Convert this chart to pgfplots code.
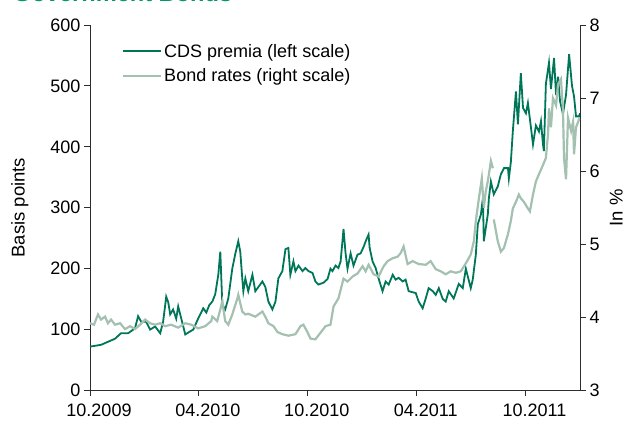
\documentclass[border=0pt]{standalone}
\usepackage{fontspec}
\setmainfont{Liberation Sans}
\usepackage{pgfplots}
\pgfplotsset{compat=1.18}
\definecolor{cdsgreen}{RGB}{0,118,88}
\definecolor{bondgreen}{RGB}{163,192,176}
\definecolor{titlegreen}{RGB}{0,150,110}
\definecolor{axisgray}{RGB}{45,45,45}

\pgfplotsset{
  base/.style={
    scale only axis, width=490pt, height=365.5pt,
    xmin=0, xmax=27,
    tick align=outside, major tick length=6pt,
    tick style={axisgray, line width=0.9pt},
    axis line style={axisgray, line width=0.9pt, -},
    ticklabel style={font=\fontsize{18}{21}\selectfont},
    /pgf/number format/assume math mode=true,
  }
}

\begin{document}
\begin{tikzpicture}[x=1pt,y=1pt]
\path[use as bounding box] (-90,-31.5) rectangle (537,390.5);
\node[anchor=base west, font=\fontsize{23.6}{26}\selectfont\bfseries, text=titlegreen, inner sep=0pt] at (-77,388.5) {Government Bonds};

% CDS premia, basis points (left scale)
\begin{axis}[base,
  ymin=0, ymax=600,
  axis x line*=bottom, axis y line*=left,
  xtick={0,6,12,18,24},
  xticklabels={10.2009,04.2010,10.2010,04.2011,10.2011},
  xticklabel style={xshift=9pt, yshift=-6pt, inner ysep=1pt},
  ytick={0,100,...,600},
  ylabel={Basis points},
  every axis y label/.style={at={(axis description cs:-0.143,0.5)}, rotate=90, anchor=center,
    font=\fontsize{18.5}{21}\selectfont},
  legend style={draw=none, fill=none, at={(axis description cs:0.065,0.954)}, anchor=north west,
    font=\fontsize{18}{21}\selectfont, row sep=6pt, inner sep=0pt, cells={anchor=west}},
  legend image code/.code={\draw[#1] (0pt,0pt) -- (38pt,0pt);},
]
\addplot[cdsgreen, line width=1.8pt] coordinates {
(0,72) (0.61,75) (1.38,85) (1.71,94) (2.10,94) (2.48,102) (2.65,122) (2.82,113) (3.09,113) (3.31,100)
(3.59,105) (3.87,94) (4.03,113) (4.20,154) (4.31,145) (4.42,125) (4.58,133) (4.75,118) (4.86,138) (5.03,118)
(5.25,92) (5.41,95) (5.69,100) (5.96,118) (6.24,135) (6.41,128) (6.57,140) (6.74,146) (6.90,158) (7.07,190)
(7.18,228) (7.29,141) (7.45,133) (7.62,151) (7.84,200) (8.01,225) (8.17,245) (8.28,228) (8.39,184) (8.45,163)
(8.56,184) (8.72,163) (8.95,190) (9.11,163) (9.28,170) (9.50,179) (9.66,170) (9.83,146) (10.05,133) (10.22,146)
(10.38,184) (10.60,196) (10.77,232) (10.93,234) (11.04,190) (11.21,212) (11.32,196) (11.49,205) (11.71,196) (11.87,201)
(12.04,196) (12.26,193) (12.42,179) (12.59,174) (12.87,177) (13.09,183) (13.25,200) (13.36,196) (13.53,205) (13.69,201)
(13.81,212) (13.97,265) (14.08,226) (14.19,200) (14.36,225) (14.52,205) (14.74,223) (14.91,225) (15.08,236) (15.19,245)
(15.35,256) (15.41,234) (15.57,212) (15.74,201) (15.90,184) (16.12,163) (16.29,179) (16.46,174) (16.68,190) (16.84,182)
(17.01,185) (17.23,179) (17.39,182) (17.56,163) (17.95,160) (18.11,146) (18.33,135) (18.50,151) (18.66,168) (18.89,163)
(19.05,157) (19.22,168) (19.44,150) (19.60,146) (19.77,163) (20.04,151) (20.32,175) (20.54,168) (20.71,200) (20.98,168)
(21.09,182) (21.26,223) (21.37,273) (21.54,289) (21.65,316) (21.70,245) (21.92,289) (21.98,316) (22.09,343) (22.25,322)
(22.47,335) (22.64,355) (22.81,365) (23.03,365) (23.08,348) (23.19,375) (23.30,426) (23.47,491) (23.58,437) (23.74,521)
(23.86,464) (24.02,455) (24.13,472) (24.30,431) (24.41,404) (24.57,435) (24.74,425) (24.85,442) (24.96,404) (25.01,393)
(25.12,503) (25.29,538) (25.40,495) (25.57,546) (25.68,485) (25.79,515) (25.90,475) (26.06,454) (26.23,485) (26.40,552)
(26.56,500) (26.67,483) (26.78,450) (26.95,450) (27,455)
};
\addlegendentry{CDS premia (left scale)}
\addlegendimage{bondgreen, line width=2.2pt}
\addlegendentry{Bond rates (right scale)}
\end{axis}

% Bond rates, per cent (right scale)
\begin{axis}[base,
  ymin=3, ymax=8,
  axis x line=none, axis y line*=right,
  ytick={3,4,...,8},
  ylabel={In \%},
  every axis y label/.style={at={(axis description cs:1.074,0.5)}, rotate=90, anchor=center,
    font=\fontsize{18.5}{21}\selectfont},
  unbounded coords=jump,
]
\addplot[bondgreen, line width=2.2pt] coordinates {
(0,3.92) (0.22,3.90) (0.44,4.04) (0.61,3.97) (0.83,4.01) (0.99,3.92) (1.16,3.97) (1.38,3.90) (1.66,3.92) (1.93,3.84)
(2.21,3.88) (2.48,3.84) (2.76,3.90) (3.04,3.97) (3.31,3.92) (3.59,3.90) (3.87,3.92) (4.14,3.88) (4.47,3.90) (4.86,3.86)
(5.25,3.92) (5.58,3.90) (5.96,3.85) (6.35,3.88) (6.68,3.95) (6.74,4.01) (7.01,3.95) (7.18,4.11) (7.29,4.22) (7.45,3.95)
(7.62,3.90) (7.84,4.04) (8.12,4.26) (8.17,4.31) (8.39,4.08) (8.56,4.04) (8.72,4.05) (9.11,4.01) (9.50,4.08) (9.66,4.01)
(9.83,3.92) (10.11,3.88) (10.33,3.80) (10.60,3.77) (10.93,3.75) (11.32,3.77) (11.60,3.88) (11.76,3.90) (11.98,3.80) (12.15,3.71)
(12.42,3.70) (12.70,3.79) (12.98,3.88) (13.25,3.90) (13.42,4.15) (13.69,4.26) (13.97,4.53) (14.19,4.49) (14.47,4.56) (14.74,4.60)
(15.02,4.70) (15.19,4.63) (15.35,4.72) (15.63,4.59) (15.90,4.56) (16.18,4.70) (16.40,4.77) (16.68,4.81) (16.95,4.83) (17.12,4.88)
(17.28,4.97) (17.50,4.73) (17.78,4.77) (18.11,4.73) (18.50,4.72) (18.77,4.77) (19.05,4.66) (19.33,4.63) (19.60,4.59) (19.88,4.63)
(20.16,4.61) (20.43,4.63) (20.71,4.74) (20.98,4.86) (21.15,5.04) (21.26,5.32) (21.43,5.63) (21.59,5.90) (21.70,5.50) (21.81,5.73)
(21.92,5.86) (22.09,6.14) (22.20,6.04) (22.22,nan) (22.25,5.34) (22.47,5.04) (22.64,4.90) (22.81,4.95) (23.03,5.14) (23.19,5.32)
(23.30,5.49) (23.47,5.58) (23.63,5.68) (23.74,5.63) (23.91,5.58) (24.13,5.49) (24.24,5.45) (24.41,5.68) (24.57,5.86) (24.74,5.96)
(24.90,6.05) (25.12,6.18) (25.24,6.51) (25.29,6.86) (25.40,6.60) (25.51,7.00) (25.68,6.90) (25.79,7.19) (25.95,7.26) (26.06,6.85)
(26.12,6.18) (26.23,5.89) (26.34,6.73) (26.51,6.55) (26.62,6.68) (26.67,6.23) (26.78,6.60) (26.95,6.71) (27,6.70)
};
\end{axis}
\end{tikzpicture}
\end{document}
